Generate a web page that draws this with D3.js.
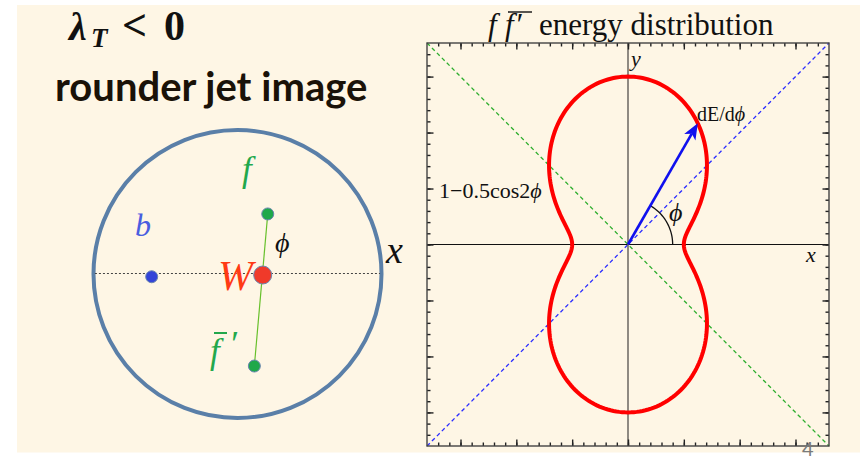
<!DOCTYPE html>
<html><head><meta charset="utf-8">
<script src="https://cdn.jsdelivr.net/npm/d3@7"></script>
<style>body{margin:0;background:#fff}svg{display:block}</style>
</head><body>
<svg id="chart" width="860" height="461"></svg>
<script>
// Polar energy distribution r(φ) = c0 + c1·cos(2φ)
const curveCoeffs = [1, -0.5];
const arrowAngleDeg = [60];
const arcRadius = [0.4];
const axisExtent = [-1.8, 1.8];
const minorStep = [0.1];
const majorStep = [0.5];

// Particles in the jet image, in units of the jet radius
const particleNames = ["b", "W", "f", "fbar"];
const particleX = [-0.596, 0.175, 0.21, 0.117];
const particleY = [-0.019, -0.007, 0.417, -0.639];

const svg = d3.select("#chart");
const serif = "'Liberation Serif','Times New Roman',serif";

// slide background
svg.append("rect").attr("x", 17).attr("y", 5).attr("width", 843).attr("height", 447.5)
  .attr("fill", "#fef6e5");

/* ---------- left: jet image ---------- */
const jx = d3.scaleLinear().domain([-1, 1]).range([93.5, 381.5]);
const jy = d3.scaleLinear().domain([-1, 1]).range([418, 130]);

// heading
const h1 = svg.append("text").attr("y", 40)
  .attr("font-family", serif).attr("font-weight", "bold").attr("font-size", 40).attr("fill", "#111");
h1.append("tspan").attr("x", 69).attr("font-style", "italic").text("λ");
h1.append("tspan").attr("x", 91).attr("font-style", "italic").attr("font-size", 27).attr("dy", 7).text("T");
h1.append("tspan").attr("x", 122).attr("dy", -7).attr("font-size", 44).text("<");
h1.append("tspan").attr("x", 164).attr("font-size", 42).text("0");

svg.append("text").attr("x", 55).attr("y", 101)
  .attr("font-family", "Lato, 'Open Sans', sans-serif").attr("font-weight", "bold")
  .attr("font-size", 40).attr("fill", "#1a1208").text("rounder jet image");

// jet boundary
svg.append("circle").attr("cx", jx(0)).attr("cy", jy(0)).attr("r", jx(1) - jx(0))
  .attr("fill", "none").attr("stroke", "#5a7fa8").attr("stroke-width", 4);

// x direction
svg.append("line").attr("x1", jx(-0.99)).attr("x2", jx(0.99)).attr("y1", jy(0) - 0.5).attr("y2", jy(0) - 0.5)
  .attr("stroke", "#444").attr("stroke-width", 1.2).attr("stroke-dasharray", "2,2");

const P = name => { const i = particleNames.indexOf(name); return [jx(particleX[i]), jy(particleY[i])]; };

// decay axis f – f̄′
svg.append("line").attr("x1", P("f")[0]).attr("y1", P("f")[1]).attr("x2", P("fbar")[0]).attr("y2", P("fbar")[1])
  .attr("stroke", "#66c02a").attr("stroke-width", 1.2);

const dotStyle = { b: ["#3344d8", 6], W: ["#f03a2a", 9], f: ["#1fa84a", 6], fbar: ["#1fa84a", 6] };
particleNames.forEach(n => {
  svg.append("circle").attr("cx", P(n)[0]).attr("cy", P(n)[1]).attr("r", dotStyle[n][1])
    .attr("fill", dotStyle[n][0]).attr("stroke", "#6a86b0").attr("stroke-width", 1);
});

const lab = (x, y, txt, size, color, italic = true) =>
  svg.append("text").attr("x", x).attr("y", y).attr("font-family", serif)
    .attr("font-style", italic ? "italic" : "normal").attr("font-size", size).attr("fill", color).text(txt);

lab(242, 181, "f", 35, "#22a84c");
lab(135, 236, "b", 32, "#4a5ee0");
lab(218, 290, "W", 42, "#ff3a14");
lab(275, 252, "ϕ", 28, "#111");
lab(386, 263, "x", 38, "#111");
lab(210, 363, "f", 35, "#22a84c");
lab(229, 356, "′", 36, "#22a84c");
svg.append("line").attr("x1", 214).attr("x2", 227).attr("y1", 333).attr("y2", 333)
  .attr("stroke", "#22a84c").attr("stroke-width", 2);

/* ---------- right: polar plot ---------- */
const x = d3.scaleLinear().domain(axisExtent).range([427, 829]);
const y = d3.scaleLinear().domain(axisExtent).range([446, 43]);

// title
const t = svg.append("text").attr("y", 35).attr("font-family", serif)
  .attr("font-size", 31).attr("fill", "#111");
t.append("tspan").attr("x", 488).attr("font-style", "italic").text("f");
t.append("tspan").attr("x", 505).attr("font-style", "italic").text("f");
t.append("tspan").attr("font-style", "italic").attr("dx", 1).text("′");
t.append("tspan").attr("x", 539).text("energy distribution");
svg.append("line").attr("x1", 508).attr("x2", 532).attr("y1", 12).attr("y2", 12)
  .attr("stroke", "#111").attr("stroke-width", 1.4);

// diagonals
svg.append("line").attr("x1", x(-1.8)).attr("y1", y(1.8)).attr("x2", x(1.8)).attr("y2", y(-1.8))
  .attr("stroke", "#2eae2e").attr("stroke-width", 1.3).attr("stroke-dasharray", "4,3");
svg.append("line").attr("x1", x(-1.8)).attr("y1", y(-1.8)).attr("x2", x(1.8)).attr("y2", y(1.8))
  .attr("stroke", "#2a2cff").attr("stroke-width", 1.3).attr("stroke-dasharray", "4,3");

// coordinate axes
svg.append("line").attr("x1", x(-1.8)).attr("x2", x(1.8)).attr("y1", y(0)).attr("y2", y(0))
  .attr("stroke", "#111").attr("stroke-width", 1.2);
svg.append("line").attr("x1", x(0)).attr("x2", x(0)).attr("y1", y(-1.8)).attr("y2", y(1.8))
  .attr("stroke", "#6a6660").attr("stroke-width", 1.5);

// frame and inward ticks
const minorVals = d3.range(-17, 18).map(i => +(i * minorStep[0]).toFixed(2));
const majorVals = d3.range(-3, 4).map(i => i * majorStep[0]);
const frame = svg.append("g");
[[d3.axisBottom, y(1.8), x], [d3.axisTop, y(-1.8), x]].forEach(([ax, pos, sc]) => {
  [[minorVals, 3.5], [majorVals, 6.5]].forEach(([vals, len]) => {
    frame.append("g").attr("transform", `translate(0,${pos})`)
      .call(ax(sc).tickValues(vals).tickSize(len).tickFormat(""))
      .call(g => g.select(".domain").remove());
  });
});
[[d3.axisRight, x(-1.8), y], [d3.axisLeft, x(1.8), y]].forEach(([ax, pos, sc]) => {
  [[minorVals, 3.5], [majorVals, 6.5]].forEach(([vals, len]) => {
    frame.append("g").attr("transform", `translate(${pos},0)`)
      .call(ax(sc).tickValues(vals).tickSize(len).tickFormat(""))
      .call(g => g.select(".domain").remove());
  });
});
frame.selectAll(".tick line").attr("stroke", "#222").attr("stroke-width", 1.4);
svg.append("rect").attr("x", x(-1.8)).attr("y", y(1.8)).attr("width", x(1.8) - x(-1.8))
  .attr("height", y(-1.8) - y(1.8)).attr("fill", "none").attr("stroke", "#444").attr("stroke-width", 1.4);

// energy curve
const r = phi => curveCoeffs[0] + curveCoeffs[1] * Math.cos(2 * phi);
const angles = d3.range(0, 360, 1).map(d => d * Math.PI / 180);
const polar = d3.line().x(a => x(r(a) * Math.cos(a))).y(a => y(r(a) * Math.sin(a))).curve(d3.curveLinearClosed);
svg.append("path").datum(angles).attr("d", polar)
  .attr("fill", "none").attr("stroke", "#ff0000").attr("stroke-width", 4);

// angle arc
const a0 = arrowAngleDeg[0] * Math.PI / 180;
const arcPts = d3.range(0, 61, 2).map(d => d * Math.PI / 180);
svg.append("path").datum(arcPts)
  .attr("d", d3.line().x(a => x(arcRadius[0] * Math.cos(a))).y(a => y(arcRadius[0] * Math.sin(a))))
  .attr("fill", "none").attr("stroke", "#111").attr("stroke-width", 1.3);

// dE/dφ arrow
const tipX = x(r(a0) * Math.cos(a0)), tipY = y(r(a0) * Math.sin(a0));
const ox = x(0), oy = y(0);
const ang = Math.atan2(tipY - oy, tipX - ox);
const hl = 16, hw = 6.5;
const bx = tipX - hl * Math.cos(ang), by = tipY - hl * Math.sin(ang);
svg.append("line").attr("x1", ox).attr("y1", oy).attr("x2", bx + 4 * Math.cos(ang)).attr("y2", by + 4 * Math.sin(ang))
  .attr("stroke", "#1010ee").attr("stroke-width", 2.6);
svg.append("path").attr("d", d3.line()([
  [tipX, tipY],
  [bx - hw * Math.sin(ang), by + hw * Math.cos(ang)],
  [bx + 4 * Math.cos(ang), by + 4 * Math.sin(ang)],
  [bx + hw * Math.sin(ang), by - hw * Math.cos(ang)]
]) + "Z").attr("fill", "#1010ee");

// labels
lab(631, 66, "y", 22, "#111");
lab(806, 262, "x", 22, "#111");
const de = svg.append("text").attr("x", 697).attr("y", 121).attr("font-family", serif)
  .attr("font-size", 20).attr("fill", "#111");
de.append("tspan").text("dE/d");
de.append("tspan").attr("font-style", "italic").text("ϕ");
const cf = svg.append("text").attr("x", 439).attr("y", 198).attr("font-family", serif)
  .attr("font-size", 22).attr("fill", "#111");
cf.append("tspan").text("1−0.5cos2");
cf.append("tspan").attr("font-style", "italic").text("ϕ");
lab(669, 221, "ϕ", 26, "#111");

// page number
svg.append("text").attr("x", 802).attr("y", 456).attr("font-family", "Lato, 'Open Sans', sans-serif")
  .attr("font-size", 20).attr("fill", "#7a7a7a").text("4");
</script>
</body></html>
